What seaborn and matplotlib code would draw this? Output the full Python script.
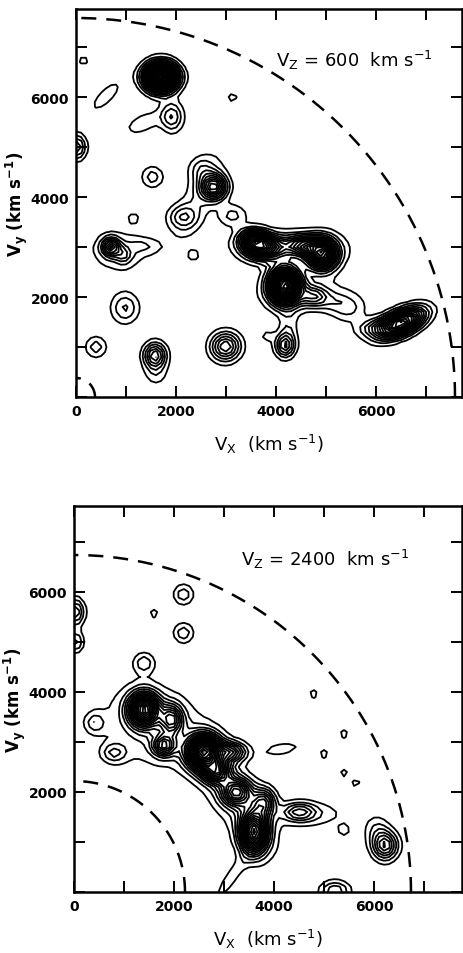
import numpy as np
import matplotlib
matplotlib.use("Agg")
import matplotlib.pyplot as plt
import seaborn as sns
from matplotlib.ticker import MultipleLocator, FuncFormatter

# velocity-space cuts at two Vz values; each clump is a gaussian peak
vz_values = [600, 2400]

top_vx =   [1700, 1920, 1350, 600, 150, 3130, 20, 1530, 1150, 2760, 2500, 2130, 3130,
            700, 950, 1350, 2350, 980, 400, 1580, 1600, 2990, 4180, 4250, 3820,
            3550, 3760, 4520, 4920, 4300, 4180, 4760, 4600, 5450, 5150, 6500, 5950,
            2450, 850]
top_vy =   [6400, 5600, 5480, 6020, 6730, 5990, 5000, 4400, 3580, 4200, 4560, 3600, 3630,
            3000, 2830, 3020, 2830, 1780, 1000, 830, 450, 1010, 1030, 1400, 1220,
            3150, 2990, 3030, 2860, 3000, 2230, 2010, 2050, 1760, 1900, 1480, 1400,
            4000, 2900]
top_peak = [25, 4, 1.7, 1.6, 1.4, 1.4, 5, 2.6, 1.4, 10, 2.2, 3.2, 2.4,
            8, 3, 1.6, 1.4, 3.2, 2.6, 7, 1.5, 7, 6, 1.7, 1.4,
            10, 12, 8, 16, 2, 22, 4.5, 1.8, 2.1, 1.2, 16, 3,
            1.8, 1.6]
top_wx =   [210, 150, 300, 330, 100, 100, 120, 150, 100, 170, 170, 200, 200,
            120, 110, 250, 100, 190, 150, 150, 170, 200, 130, 130, 110,
            180, 250, 230, 200, 800, 200, 180, 650, 230, 200, 330, 250,
            700, 450]
top_wy =   [180, 200, 140, 120, 100, 100, 170, 150, 100, 170, 170, 160, 150,
            120, 110, 110, 100, 210, 150, 170, 170, 190, 160, 250, 90,
            130, 150, 130, 200, 250, 230, 130, 250, 180, 120, 150, 120,
            220, 330]
top_tilt = [0, 0, 25, 45, 0, 0, 0, 0, 0, 0, 0, 0, 0,
            0, 0, 0, 0, 0, 0, 0, 0, 10, 0, 0, 0,
            0, 0, 0, 0, 0, 0, 0, 0, 0, 0, 25, 10,
            65, 0]

bot_vx =   [2190, 2190, 1600, 1400, 30, 30, 420, 800, 1400, 1950, 1800, 2600, 3150,
            2850, 3250, 3800, 3600, 1600, 3200, 4500, 4750, 4150, 4790, 5400, 5000,
            5400, 5640, 5400, 6220, 6050, 5220, 3150]
bot_vy =   [5950, 5180, 5570, 4580, 5600, 5000, 3380, 2780, 3650, 3450, 2930, 2800, 2800,
            2400, 2000, 1800, 1200, 3300, 1900, 1600, 1560, 2860, 3960, 3160, 2760,
            2380, 2170, 1230, 930, 1250, 30, 300]
bot_peak = [2.8, 2.8, 1.4, 2.8, 5, 3.5, 2.5, 3, 16, 8, 8, 20, 7,
            10, 10, 7, 16, 2.2, 2.2, 4.5, 1.7, 1.6, 1.4, 1.4, 1.4,
            1.4, 1.4, 1.4, 7, 1.9, 4, 1.6]
bot_wx =   [140, 140, 100, 140, 120, 110, 140, 170, 200, 150, 150, 220, 200,
            180, 200, 150, 180, 750, 900, 220, 480, 300, 100, 100, 100,
            90, 90, 110, 170, 170, 200, 450]
bot_wy =   [140, 140, 100, 140, 180, 140, 140, 130, 220, 200, 140, 220, 130,
            150, 180, 180, 280, 550, 330, 120, 180, 100, 100, 100, 100,
            90, 90, 110, 190, 200, 130, 100]
bot_tilt = [0, 0, 0, 0, 0, 0, 0, 0, 0, 0, 0, 0, 0,
            0, 0, 0, 0, -20, -55, 0, 0, 10, 0, 0, 0,
            0, 0, 0, 0, 0, 0, 55]

# radii of the dashed limit circles
top_radii = [7580, 380]
bot_radii = [6740, 2220]

levels = np.arange(1, 31)
tick_labels = [0, 2000, 4000, 6000]


def clump_map(vx, vy, peak, wx, wy, tilt, gx, gy):
    z = np.zeros(gx.shape, dtype=float)
    for x0, y0, a, s1, s2, t in zip(vx, vy, peak, wx, wy, tilt):
        th = np.radians(t)
        dx, dy = gx - x0, gy - y0
        u = dx * np.cos(th) + dy * np.sin(th)
        v = -dx * np.sin(th) + dy * np.cos(th)
        z += a * np.exp(-0.5 * (u ** 2 / s1 ** 2 + v ** 2 / s2 ** 2))
    return z


sns.set_style("ticks", {"xtick.direction": "in", "ytick.direction": "in",
                        "axes.edgecolor": "black", "text.color": "black",
                        "axes.labelcolor": "black", "xtick.color": "black",
                        "ytick.color": "black"})
plt.rcParams["font.family"] = ["DejaVu Sans"]
plt.rcParams["mathtext.default"] = "regular"

fig = plt.figure(figsize=(4.63, 9.54), dpi=100)
ax1 = fig.add_axes([76 / 463, 1 - 398 / 954, 386 / 463, 388 / 954])
ax2 = fig.add_axes([74 / 463, 1 - 893 / 954, 388 / 463, 386 / 954])

g = np.arange(-300, 8101, 100, dtype=float)
gx, gy = np.meshgrid(g, g)

panels = [
    (ax1, (top_vx, top_vy, top_peak, top_wx, top_wy, top_tilt), top_radii, 7720, 7760),
    (ax2, (bot_vx, bot_vy, bot_peak, bot_wx, bot_wy, bot_tilt), bot_radii, 7760, 7720),
]

for (ax, clumps, radii, xmax, ymax), vz in zip(panels, vz_values):
    z = clump_map(*clumps, gx, gy)
    ax.contour(gx, gy, z, levels=levels, colors="black", linewidths=1.3)
    th = np.linspace(0, np.pi / 2, 300)
    for r in radii:
        ax.plot(r * np.cos(th), r * np.sin(th), color="black", lw=1.8,
                dashes=(6, 4))
    ax.set_xlim(0, xmax)
    ax.set_ylim(0, ymax)
    ax.xaxis.set_major_locator(MultipleLocator(1000))
    ax.yaxis.set_major_locator(MultipleLocator(1000))
    ax.xaxis.set_major_formatter(FuncFormatter(
        lambda v, p: f"{int(v)}" if int(v) in tick_labels else ""))
    ax.yaxis.set_major_formatter(FuncFormatter(
        lambda v, p: f"{int(v)}" if int(v) in tick_labels[1:] else ""))
    ax.tick_params(which="major", length=8, width=1.4, top=True, right=True,
                   labelsize=10, pad=5, colors="black")
    for lab in ax.get_xticklabels() + ax.get_yticklabels():
        lab.set_fontweight("bold")
    for s in ax.spines.values():
        s.set_linewidth(1.8)
        s.set_color("black")
        s.set_visible(True)
    ax.set_xlabel(r"V$_\mathregular{X}$  (km s$^{-1}$)", fontsize=13, labelpad=10,
                  color="black")
    ax.set_ylabel(r"V$_\mathregular{y}$ (km s$^{-1}$)", fontsize=12,
                  fontweight="bold", labelpad=0, color="black")

ax1.text(0.72, 0.87, r"V$_\mathregular{Z}$ = 600  km s$^{-1}$", transform=ax1.transAxes,
         fontsize=13, ha="center", va="center", color="black")
ax2.text(0.647, 0.863, r"V$_\mathregular{Z}$ = 2400  km s$^{-1}$", transform=ax2.transAxes,
         fontsize=13, ha="center", va="center", color="black")

fig.savefig("out.png", dpi=100)
